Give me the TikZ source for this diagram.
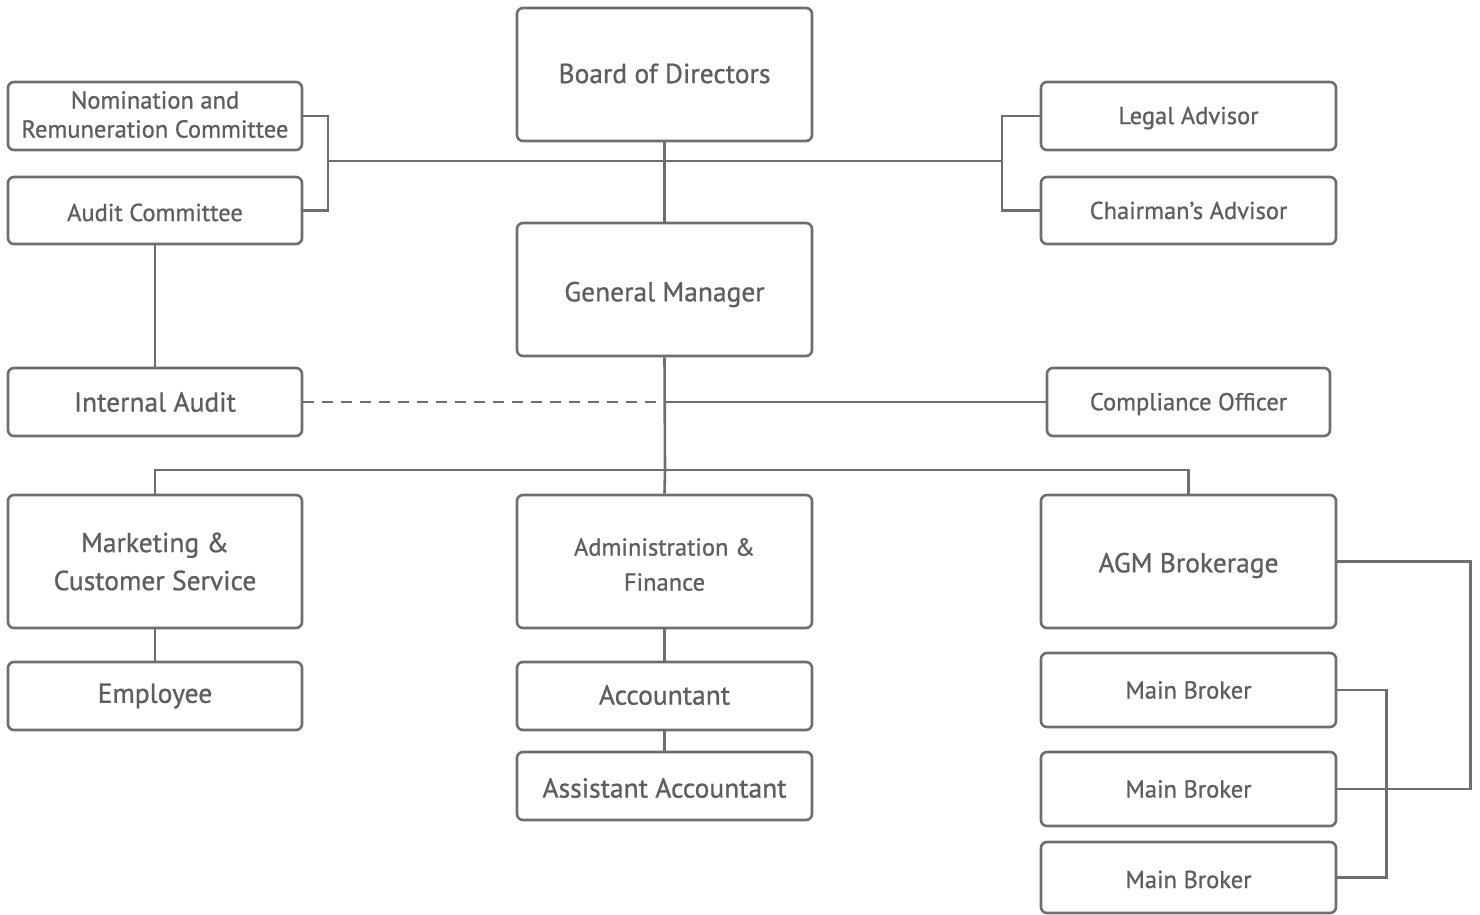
\documentclass[tikz,border=0pt]{standalone}
\usepackage{fontspec}
\setmainfont{PT Sans}[FakeBold=0.8]
\definecolor{lc}{HTML}{6E6E6E}
\definecolor{tc}{HTML}{5E5E5E}
\tikzset{
  box/.style={draw=lc, line width=2.6pt, rounded corners=6pt, fill=white, inner sep=0pt, align=center, text=tc},
  big/.style={font=\fontsize{27.5}{38}\selectfont},
  med/.style={font=\fontsize{24.5}{30}\selectfont},
  conn/.style={draw=lc, line width=2.6pt},
  dconn/.style={draw=lc, line width=2pt, dash pattern=on 11pt off 8pt},
}
\newcommand{\dn}[2]{\raisebox{-#1pt}[\height][\depth]{#2}}
\begin{document}
\begin{tikzpicture}[x=1pt,y=-1pt]
\useasboundingbox (0,0) rectangle (1480,915);
% boxes
\newcommand{\bx}[7]{\node[box,#6,minimum width=#3pt-#1pt,minimum height=#4pt-#2pt] (#5) at ({(#1+#3)/2},{(#2+#4)/2}) {#7};}
\bx{517}{8}{812}{141}{bod}{big}{\dn{-1}{Board of Directors}}
\bx{8}{82}{302}{150}{nom}{med}{\dn{-2}{Nomination and}\\[-2pt]\dn{-1}{Remuneration Committee}}
\bx{8}{177}{302}{244}{aud}{med}{\dn{2}{Audit Committee}}
\bx{1041}{82}{1336}{150}{leg}{med}{\dn{2}{Legal Advisor}}
\bx{1041}{177}{1336}{244}{cha}{med}{Chairman’s Advisor}
\bx{517}{223}{812}{356}{gm}{big}{\dn{5}{General Manager}}
\bx{8}{368}{302}{436}{ia}{big}{Internal Audit}
\bx{1047}{368}{1330}{436}{co}{med}{\dn{2}{Compliance Officer}}
\bx{8}{495}{302}{628}{mkt}{big}{Marketing \&\\Customer Service}
\bx{517}{495}{812}{628}{adm}{med}{\dn{3}{Administration \&}\\[5pt]\dn{3}{Finance}}
\bx{1041}{495}{1336}{628}{agm}{big}{\dn{4}{AGM Brokerage}}
\bx{8}{662}{302}{730}{emp}{big}{Employee}
\bx{517}{662}{812}{730}{acc}{big}{\dn{-1}{Accountant}}
\bx{517}{752}{812}{820}{asst}{big}{\dn{2}{Assistant Accountant}}
\bx{1041}{653}{1336}{727}{mb1}{med}{Main Broker}
\bx{1041}{752}{1336}{826}{mb2}{med}{Main Broker}
\bx{1041}{842}{1336}{913}{mb3}{med}{\dn{2}{Main Broker}}
% junction coordinates
\coordinate (lj) at (328,161);
\coordinate (rj) at (1002,161);
\coordinate (cj) at (gm.south |- co.west);
\coordinate (bj) at (665,470);
% connectors
\draw[conn] (nom.east) -| (lj) |- (aud.east);
\draw[conn] (leg.west) -| (rj) |- (cha.west);
\draw[conn] (lj) -- (rj);
\draw[conn] (bod.south) -- (gm.north);
\draw[conn] (aud.south) -- (ia.north);
\draw[conn] (gm.south) -- (bj);
\draw[conn] (cj) -- (co.west);
\draw[dconn] (ia.east) -- (cj);
\draw[conn] (mkt.north) |- (bj) -| (agm.north);
\draw[conn] (bj) -- (adm.north);
\draw[conn] (mkt.south) -- (emp.north);
\draw[conn] (adm.south) -- (acc.north);
\draw[conn] (acc.south) -- (asst.north);
\draw[conn] (agm.east) -- ++(133,0) |- (mb2.east);
\draw[conn] (mb1.east) -- ++(49,0) |- (mb3.east);
\end{tikzpicture}
\end{document}
